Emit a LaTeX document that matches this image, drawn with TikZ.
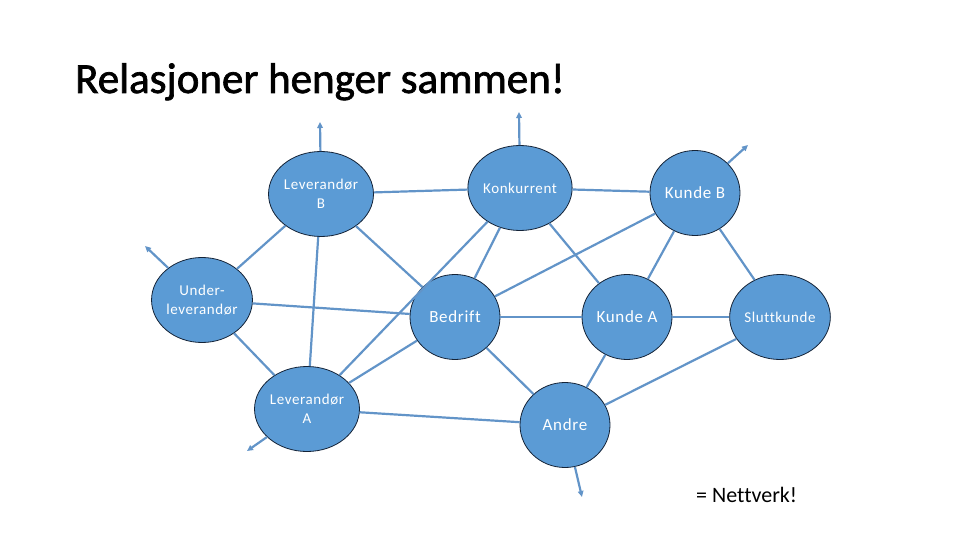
\documentclass[tikz,border=0pt]{standalone}
\usepackage{fontspec}
\setmainfont{Carlito}[Ligatures=NoCommon]
\newfontfamily\nodefont{Carlito}[Ligatures=NoCommon,LetterSpace=4]
\newfontfamily\titlefont{Carlito}[Ligatures=NoCommon,FakeBold=1.6]
\usetikzlibrary{shapes.geometric,arrows.meta}
\definecolor{nodefill}{RGB}{91,155,213}
\definecolor{nodeline}{RGB}{20,35,55}
\definecolor{edgecol}{RGB}{98,148,200}
\tikzset{
  circ/.style={ellipse, draw=nodeline, line width=0.8pt, fill=nodefill,
    minimum width=90pt, minimum height=85pt, inner sep=0pt, text=white,
    align=center},
  small/.style={font=\nodefont\fontsize{15}{19}\selectfont},
  big/.style={font=\nodefont\fontsize{17}{20}\selectfont},
  link/.style={draw=edgecol, line width=2.2pt},
  outarrow/.style={link, -{Triangle[length=6pt,width=5.5pt]}}
}
\begin{document}
\begin{tikzpicture}[x=1pt,y=-1pt]
\useasboundingbox (0,0) rectangle (960,540);
% title
\node[anchor=base west, inner sep=0pt, font=\titlefont\fontsize{43}{50}\selectfont] (title) at (75,93) {Relasjoner henger sammen!};
% nodes
\node[circ, small] (levb) at (321,194) {Leverandør\\B};
\node[circ, small] (under) at (202,300) {Under-\\leverandør};
\node[circ, small] (konk) at (520,188) {Konkurrent};
\node[circ, big] (kundeb) at (695,193) {Kunde B};
\node[circ, big] (bedrift) at (455,317) {Bedrift};
\node[circ, big] (kundea) at (627,317) {Kunde A};
\node[circ, small] (slutt) at (780,317) {Sluttkunde};
\node[circ, small] (leva) at (307,409) {Leverandør\\A};
\node[circ, big] (andre) at (565,425) {Andre};
% free ends
\coordinate (e1) at (320,122);
\coordinate (e2) at (519,112);
\coordinate (e3) at (748,145);
\coordinate (e4) at (145,246);
\coordinate (e5) at (247,451);
\coordinate (e6) at (582,497);
% connectors
\path[link] (levb) -- (konk);
\path[link] (levb) -- (under);
\path[link] (levb) -- (leva);
\path[link] (levb) -- (bedrift);
\path[link] (under) -- (bedrift);
\path[link] (under) -- (leva);
\path[link] (konk) -- (kundeb);
\path[link] (konk) -- (bedrift);
\path[link] (konk) -- (kundea);
\path[link] (konk) -- (leva);
\path[link] (kundeb) -- (bedrift);
\path[link] (kundeb) -- (kundea);
\path[link] (kundeb) -- (slutt);
\path[link] (bedrift) -- (kundea);
\path[link] (kundea) -- (slutt);
\path[link] (bedrift) -- (leva);
\path[link] (bedrift) -- (andre);
\path[link] (kundea) -- (andre);
\path[link] (slutt) -- (andre);
\path[link] (leva) -- (andre);
\path[outarrow] (levb) -- (e1);
\path[outarrow] (konk) -- (e2);
\path[outarrow] (kundeb) -- (e3);
\path[outarrow] (under) -- (e4);
\path[outarrow] (leva) -- (e5);
\path[outarrow] (andre) -- (e6);
\node[anchor=base west, inner sep=0pt, font=\fontsize{22}{26}\selectfont] (nett) at (696,502) {= Nettverk!};
\end{tikzpicture}
\end{document}
